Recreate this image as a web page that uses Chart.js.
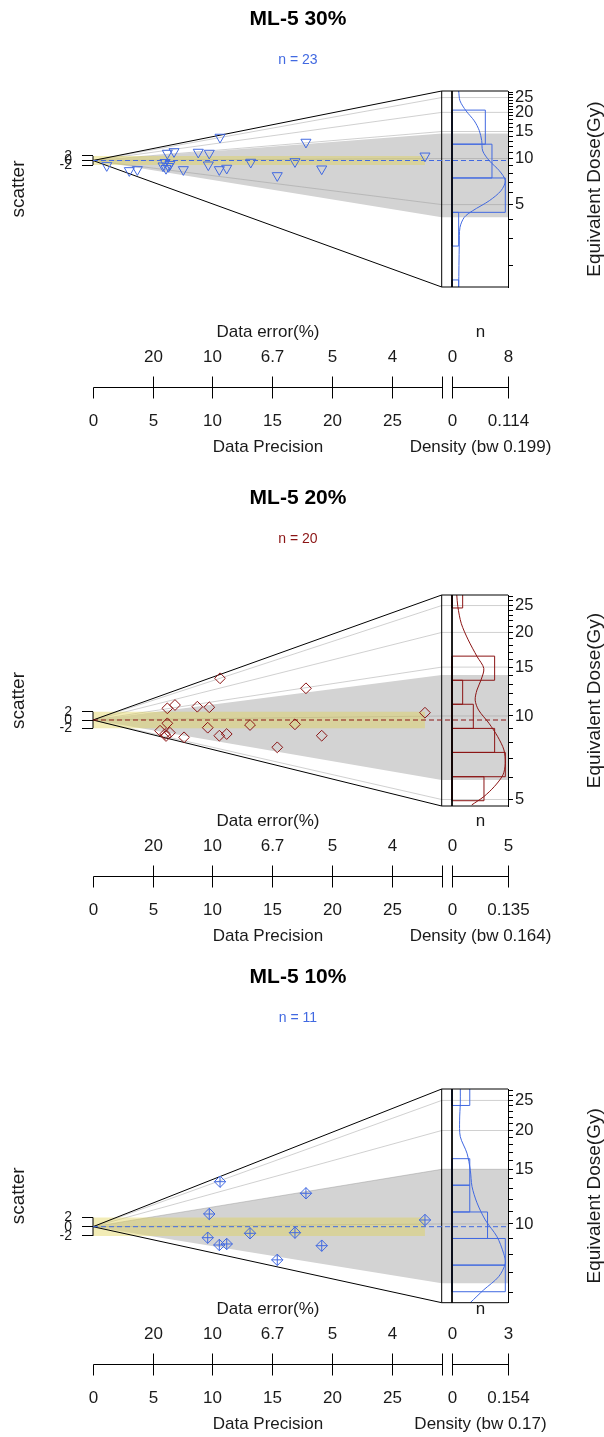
<!DOCTYPE html>
<html lang="en">
<head>
<meta charset="UTF-8">
<title>Abanico plots ML-5</title>
<script src="https://cdn.jsdelivr.net/npm/chart.js"></script>
<style>
  body { margin: 0; background: #fff; }
  canvas { display: block; }
</style>
</head>
<body>
<canvas id="ml30" width="604" height="479"></canvas>
<canvas id="ml20" width="604" height="479"></canvas>
<canvas id="ml10" width="604" height="479"></canvas>

<script>
// values shared by the three plots
const fanPrecision = 29.18;              // precision at the right edge of the fan
const precisionTicks = [5, 10, 15, 20, 25];
const doseLabels = [5, 10, 15, 20, 25];
const zTicks = [-2, 0, 2];

// ML-5 30%
const ml30Precision = [1.15, 3.04, 3.71, 6.22, 6.78, 5.86, 6.11, 6.32, 6.44, 6.03, 7.56, 8.81,
                       9.73, 9.65, 10.57, 11.19, 10.63, 13.20, 15.42, 16.90, 17.82, 19.14, 27.78];
const ml30Z = [-2.22, -4.41, -3.98, 3.22, 3.92, -2.35, -3.45, -2.57, -1.69, -0.82, -3.98, 3.66,
               3.22, -1.91, -3.98, -3.36, 10.24, -0.73, -6.61, -0.47, 8.05, -3.67, 2.0];
const ml30Central = 9.7;
const ml30ZRange = [-55.5, 30.5];
const ml30Band = [-24.9, 11.9];
const ml30HistEdges = [0.966, 1.61, 2.68, 4.45, 7.46, 12.4, 20.7];
const ml30HistCounts = [1, 0, 1, 8, 6, 5];
const ml30KdeDose = [27.6, 23.8, 20.5, 17.6, 15.2, 13.1, 11.2, 9.67, 8.32, 7.16, 6.16, 5.30, 4.56, 4.13, 3.55, 2.76, 1.45];
const ml30KdeDensity = [0.0143, 0.0171, 0.0299, 0.0477, 0.0584, 0.0635, 0.0657, 0.0798, 0.1012, 0.114,
                        0.1048, 0.0798, 0.0443, 0.0263, 0.0171, 0.0156, 0.0143];
const ml30CountMax = 8;
const ml30DensityMax = 0.114;
const ml30Bw = 0.199;

// ML-5 20%
const ml20Precision = [10.63, 17.82, 6.22, 6.86, 8.73, 9.73, 27.78, 6.22, 5.61, 6.03, 6.44, 6.11,
                       7.62, 9.60, 10.57, 11.19, 13.14, 15.42, 16.90, 19.14];
const ml20Z = [10.10, 7.68, 2.83, 3.63, 3.22, 3.08, 1.77, -0.80, -2.59, -3.39, -3.08, -3.87,
               -4.19, -1.86, -3.80, -3.39, -1.21, -6.61, -1.04, -3.80];
const ml20Central = 9.67;
const ml20ZRange = [-20.82, 30.27];
const ml20Band = [-14.53, 10.9];
const ml20HistEdges = [4.95, 6.04, 7.39, 9.02, 11.02, 13.45, 16.43, 20.07, 24.5, 29.9];
const ml20HistCounts = [3, 5, 4, 2, 1, 4, 0, 0, 1];
const ml20KdeDose = [27.3, 24.8, 21.5, 18.8, 16.4, 14.85, 13.5, 12.4, 11.4, 10.5, 9.41, 8.42, 7.54, 6.75, 6.13, 5.56, 5.12, 4.78];
const ml20KdeDensity = [0.0121, 0.0147, 0.0237, 0.0411, 0.0632, 0.0805, 0.0737, 0.0632, 0.0587, 0.0674,
                        0.0937, 0.1158, 0.1316, 0.135, 0.129, 0.1069, 0.0805, 0.050];
const ml20CountMax = 5;
const ml20DensityMax = 0.135;
const ml20Bw = 0.164;

// ML-5 10%
const ml10Precision = [10.63, 17.82, 9.73, 27.78, 9.60, 10.57, 11.19, 13.14, 16.90, 19.14, 15.42];
const ml10Z = [9.74, 7.23, 2.75, 1.45, -2.38, -3.96, -3.74, -1.43, -1.30, -4.11, -7.18];
const ml10Central = 9.8;
const ml10ZRange = [-16.45, 29.8];
const ml10Band = [-12.25, 12.42];
const ml10HistEdges = [6.05, 7.37, 8.98, 10.93, 13.33, 16.23, 19.77, 24.08, 29.3];
const ml10HistCounts = [3, 3, 2, 1, 1, 0, 0, 1];
const ml10KdeDose = [27.2, 24.5, 21.6, 19.1, 16.9, 14.9, 13.2, 11.7, 10.3, 9.10, 8.05, 7.47, 6.76, 6.13, 5.58];
const ml10KdeDensity = [0.024, 0.024, 0.022, 0.024, 0.0433, 0.0529, 0.0578, 0.0722, 0.0962, 0.130,
                        0.149, 0.154, 0.1346, 0.0913, 0.0529];
const ml10CountMax = 3;
const ml10DensityMax = 0.154;
const ml10Bw = 0.17;

// ---- layout / style ----
const FONT = '"Liberation Sans", Arial, Helvetica, sans-serif';
Chart.defaults.font.family = FONT;
Chart.defaults.color = '#1a1a1a';

const BLUE = 'rgb(65,105,225)';
const DARKRED = 'rgb(139,20,20)';
const GRAY = 'rgb(211,211,211)';
const GRID = 'rgba(150,150,150,0.45)';
const YELLOW = 'rgba(225,210,80,0.42)';
const NONE = 'rgba(0,0,0,0)';

// horizontal split of the plot area (93..508 px)
const FAN_EDGE = 348.7 / 415;
const HIST_LEFT = 359 / 415;
const HIST_FULL = 412.3 / 415;

const panelLayout = {
  ml30: { top: 91, bottom: 287, axisY: 387.3 },
  ml20: { top: 116, bottom: 327, axisY: 396.6 },
  ml10: { top: 131, bottom: 344.7, axisY: 406 }
};

// bottom axes (precision / data error, n / density) and the right axis title
const abanicoAxes = {
  id: 'abanicoAxes',
  afterDraw(chart, args, o) {
    const ctx = chart.ctx;
    const sx = chart.scales.x, sh = chart.scales.xh, area = chart.chartArea;
    const ay = Math.round(o.axisY) + 0.5;
    const px = v => Math.round(sx.getPixelForValue(v)) + 0.5;
    const seg = (x1, y1, x2, y2) => { ctx.beginPath(); ctx.moveTo(x1, y1); ctx.lineTo(x2, y2); ctx.stroke(); };
    const fmt = v => String(Math.round(v * 10) / 10);

    ctx.save();
    ctx.strokeStyle = '#000';
    ctx.lineWidth = 1;

    const x0 = px(0), x1 = px(fanPrecision);
    seg(x0, ay, x1, ay);
    seg(x0, ay, x0, ay + 11);
    seg(x1, ay - 11, x1, ay + 11);
    precisionTicks.forEach(v => { const xx = px(v); seg(xx, ay - 11, xx, ay + 11); });

    const h0 = Math.round(sh.getPixelForValue(0)) + 0.5;
    const h1 = Math.round(area.right) + 0.5;
    seg(h0, ay, h1, ay);
    seg(h0, ay - 11, h0, ay + 11);
    seg(h1, ay - 11, h1, ay + 11);

    ctx.fillStyle = '#1a1a1a';
    ctx.textAlign = 'center';
    ctx.textBaseline = 'middle';
    ctx.font = '17px ' + FONT;
    ctx.fillText('0', x0, ay + 33.4);
    precisionTicks.forEach(v => {
      ctx.fillText(String(v), px(v), ay + 33.4);
      ctx.fillText(fmt(100 / v), px(v), ay - 30.6);
    });
    ctx.fillText('0', h0, ay - 30.6);
    ctx.fillText(String(o.countMax), h1, ay - 30.6);
    ctx.fillText('0', h0, ay + 33.4);
    ctx.fillText(String(o.densityMax), h1, ay + 33.4);

    ctx.fillText('Data error(%)', (x0 + x1) / 2, ay - 55.6);
    ctx.fillText('Data Precision', (x0 + x1) / 2, ay + 60);
    ctx.fillText('n', (h0 + h1) / 2, ay - 55.6);
    ctx.fillText('Density (bw ' + o.bw + ')', (h0 + h1) / 2, ay + 60);

    ctx.font = '19px ' + FONT;
    ctx.translate(595, (area.top + area.bottom) / 2);
    ctx.rotate(-Math.PI / 2);
    ctx.fillText('Equivalent Dose(Gy)', 0, 0);
    ctx.restore();
  }
};

function lineSet(data, color, extra) {
  return Object.assign({
    data: data, borderColor: color, borderWidth: 1, pointRadius: 0,
    fill: false, tension: 0, xAxisID: 'x', yAxisID: 'y'
  }, extra);
}

function makePanel(canvasId, p) {
  const lay = panelLayout[canvasId];
  const toZ = de => Math.log(de / p.central) * fanPrecision;
  const xEnd = fanPrecision / FAN_EDGE;
  const zBot = p.zRange[0], zTop = p.zRange[1];
  const deMin = p.central * Math.exp(zBot / fanPrecision);
  const deMax = p.central * Math.exp(zTop / fanPrecision);
  const pMax = Math.max(...p.precision);
  const points = p.precision.map((v, i) => ({ x: v, y: p.z[i] }));
  const datasets = [];

  // measured values
  datasets.push(lineSet(points, p.color, {
    showLine: false, pointRadius: p.radius, pointStyle: p.style, pointRotation: p.rotation,
    pointBorderColor: p.color, pointBackgroundColor: NONE, pointBorderWidth: 1, order: 0
  }));
  if (p.crossed) {
    datasets.push(lineSet(points, p.color, {
      showLine: false, pointRadius: p.radius, pointStyle: 'cross',
      pointBorderColor: p.color, pointBorderWidth: 1, order: 0
    }));
  }

  // central value
  datasets.push(lineSet([{ x: 0, y: 0 }, { x: xEnd, y: 0 }], p.color, { borderDash: [5, 3], order: 1 }));

  // fan outline, histogram frame and the short z axis
  datasets.push(lineSet([{ x: fanPrecision, y: zTop }, { x: 0, y: 0 }, { x: fanPrecision, y: zBot }, { x: fanPrecision, y: zTop }],
    '#000', { order: 2, clip: false }));
  datasets.push(lineSet([{ x: fanPrecision, y: zTop }, { x: xEnd, y: zTop }], '#000', { order: 2, clip: false }));
  datasets.push(lineSet([{ x: fanPrecision, y: zBot }, { x: xEnd, y: zBot }], '#000', { order: 2, clip: false }));
  datasets.push(lineSet([{ x: 0, y: zTop }, { x: 0, y: zBot }], '#000', { xAxisID: 'xh', order: 2, clip: false }));
  datasets.push(lineSet([{ x: 0, y: zTicks[0] }, { x: 0, y: zTicks[zTicks.length - 1] }], '#000', { order: 2, clip: false }));

  // kernel density
  datasets.push(lineSet(p.kdeDose.map((d, i) => ({ x: p.kdeDensity[i], y: toZ(d) })), p.color,
    { xAxisID: 'xd', tension: 0.3, order: 3 }));

  // histogram
  p.histCounts.forEach((n, i) => {
    if (!n) return;
    const lo = toZ(p.histEdges[i]), hi = toZ(p.histEdges[i + 1]);
    datasets.push(lineSet([{ x: 0, y: lo }, { x: n, y: lo }, { x: n, y: hi }, { x: 0, y: hi }, { x: 0, y: lo }],
      p.color, { xAxisID: 'xh', order: 3 }));
  });

  // 2 sigma bar
  datasets.push(lineSet([{ x: 0, y: 2 }, { x: pMax, y: 2 }], NONE, { fill: '+1', backgroundColor: YELLOW, order: 5 }));
  datasets.push(lineSet([{ x: 0, y: -2 }, { x: pMax, y: -2 }], NONE, { order: 5 }));

  // dose grid lines
  doseLabels.filter(d => d > deMin && d < deMax).forEach(d => {
    const zz = toZ(d);
    datasets.push(lineSet([{ x: 0, y: 0 }, { x: fanPrecision, y: zz }, { x: xEnd, y: zz }], GRID, { order: 6 }));
  });

  // dispersion polygon
  datasets.push(lineSet([{ x: 0, y: 0 }, { x: fanPrecision, y: p.band[1] }, { x: xEnd, y: p.band[1] }], NONE,
    { fill: '+1', backgroundColor: GRAY, order: 7 }));
  datasets.push(lineSet([{ x: 0, y: 0 }, { x: fanPrecision, y: p.band[0] }, { x: xEnd, y: p.band[0] }], NONE, { order: 7 }));

  const histSpan = HIST_FULL - HIST_LEFT;
  const doseTicks = [];
  for (let d = Math.ceil(deMin); d <= Math.floor(deMax); d++) doseTicks.push({ value: d });

  return new Chart(document.getElementById(canvasId), {
    type: 'line',
    data: { datasets },
    options: {
      responsive: false,
      animation: false,
      events: [],
      layout: { padding: { top: 0, left: 0, right: 8, bottom: 479 - lay.bottom } },
      plugins: {
        legend: { display: false },
        tooltip: { enabled: false },
        title: {
          display: true, text: p.title, color: '#000',
          font: { size: 21, weight: 'bold' }, padding: { top: 7, bottom: 0 }
        },
        subtitle: {
          display: true, text: 'n = ' + p.precision.length, color: p.color,
          font: { size: 14 }, padding: { top: 20, bottom: lay.top - 69 }
        },
        abanicoAxes: { axisY: lay.axisY, countMax: p.countMax, densityMax: p.densityMax, bw: p.bw }
      },
      scales: {
        x: { type: 'linear', min: 0, max: xEnd, display: false },
        xh: {
          type: 'linear', display: false,
          min: -HIST_LEFT / histSpan * p.countMax, max: (1 - HIST_LEFT) / histSpan * p.countMax
        },
        xd: {
          type: 'linear', display: false,
          min: -HIST_LEFT / histSpan * p.densityMax, max: (1 - HIST_LEFT) / histSpan * p.densityMax
        },
        y: {
          type: 'linear', position: 'left', min: zBot, max: zTop,
          afterBuildTicks: s => { s.ticks = zTicks.map(v => ({ value: v })); },
          afterFit: s => { s.width = 93; },
          grid: { drawOnChartArea: false, drawTicks: true, tickLength: 11, color: '#000' },
          border: { display: false },
          ticks: { autoSkip: false, padding: 10, color: '#1a1a1a', font: { size: 14 }, callback: v => String(v) },
          title: { display: true, text: 'scatter', color: '#1a1a1a', font: { size: 19 }, padding: { top: 7, bottom: 0 } }
        },
        yDe: {
          type: 'logarithmic', position: 'right', min: deMin, max: deMax, bounds: 'data',
          afterBuildTicks: s => { s.ticks = doseTicks.slice(); },
          afterFit: s => { s.width = 88; },
          grid: { drawOnChartArea: false, drawTicks: true, tickLength: 5, color: '#000' },
          border: { display: true, color: '#000', width: 1 },
          ticks: {
            autoSkip: false, padding: 2, color: '#1a1a1a', font: { size: 16.5 },
            callback: v => doseLabels.includes(v) ? String(v) : ''
          }
        }
      }
    },
    plugins: [abanicoAxes]
  });
}

makePanel('ml30', {
  title: 'ML-5 30%', color: BLUE, style: 'triangle', rotation: 180, radius: 5.8, crossed: false,
  precision: ml30Precision, z: ml30Z, central: ml30Central, zRange: ml30ZRange, band: ml30Band,
  histEdges: ml30HistEdges, histCounts: ml30HistCounts, kdeDose: ml30KdeDose, kdeDensity: ml30KdeDensity,
  countMax: ml30CountMax, densityMax: ml30DensityMax, bw: ml30Bw
});

makePanel('ml20', {
  title: 'ML-5 20%', color: DARKRED, style: 'rectRot', rotation: 0, radius: 5.4, crossed: false,
  precision: ml20Precision, z: ml20Z, central: ml20Central, zRange: ml20ZRange, band: ml20Band,
  histEdges: ml20HistEdges, histCounts: ml20HistCounts, kdeDose: ml20KdeDose, kdeDensity: ml20KdeDensity,
  countMax: ml20CountMax, densityMax: ml20DensityMax, bw: ml20Bw
});

makePanel('ml10', {
  title: 'ML-5 10%', color: BLUE, style: 'rectRot', rotation: 0, radius: 5.7, crossed: true,
  precision: ml10Precision, z: ml10Z, central: ml10Central, zRange: ml10ZRange, band: ml10Band,
  histEdges: ml10HistEdges, histCounts: ml10HistCounts, kdeDose: ml10KdeDose, kdeDensity: ml10KdeDensity,
  countMax: ml10CountMax, densityMax: ml10DensityMax, bw: ml10Bw
});
</script>
</body>
</html>
